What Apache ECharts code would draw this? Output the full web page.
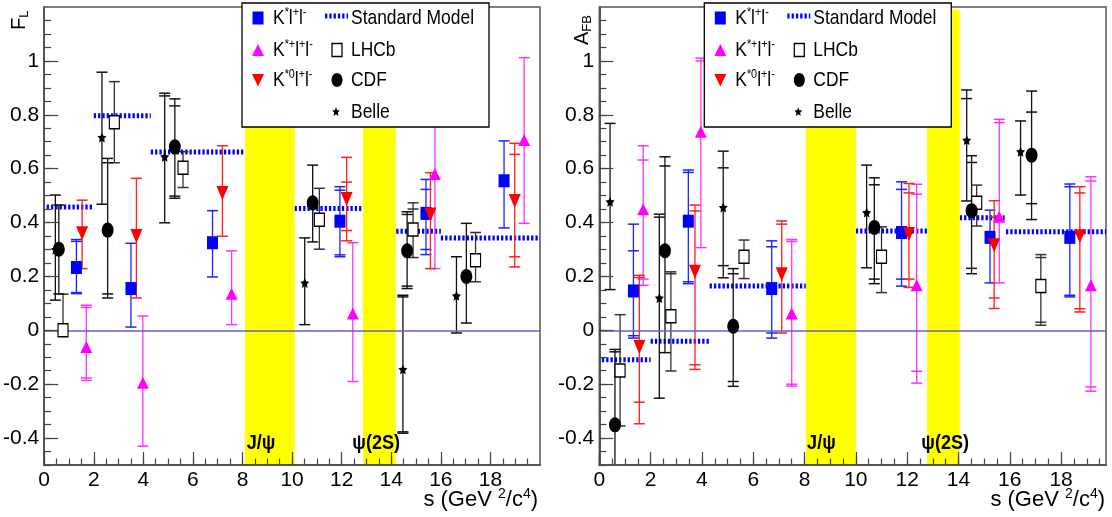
<!DOCTYPE html>
<html><head><meta charset="utf-8">
<script src="https://cdn.jsdelivr.net/npm/echarts@6/dist/echarts.min.js"></script>
<style>html,body{margin:0;padding:0;background:#fff}#c{width:1112px;height:517px}</style>
</head><body><div id="c"></div>
<script>
// ---------- tick labels ----------
const xMajorTicks = [0, 2, 4, 6, 8, 10, 12, 14, 16, 18];
const yMajorTicks = [-0.4, -0.2, 0, 0.2, 0.4, 0.6, 0.8, 1];

// ---------- data: rows are [s, value, low, high, innerLow, innerHigh] ----------
// Left panel: F_L
const FL_Kll = [
  [1.3, 0.233, 0.136, 0.337, 0.14, 0.33],
  [3.5, 0.155, 0.012, 0.323, 0.012, 0.323],
  [6.79, 0.325, 0.198, 0.444, 0.198, 0.444],
  [11.93, 0.405, 0.273, 0.533, 0.28, 0.52],
  [15.4, 0.434, 0.281, 0.56, 0.30, 0.523],
  [18.55, 0.555, 0.38, 0.703, 0.38, 0.703]
];
const FL_Kpll = [
  [1.7, -0.062, -0.186, 0.093, -0.177, 0.085],
  [3.98, -0.195, -0.43, 0.053, -0.43, 0.053],
  [7.56, 0.136, 0.021, 0.295, 0.021, 0.295],
  [12.45, 0.062, -0.19, 0.325, -0.19, 0.325],
  [15.76, 0.58, 0.229, 0.95, 0.229, 0.95],
  [19.36, 0.706, 0.397, 1.012, 0.397, 1.012]
];
const FL_K0ll = [
  [1.53, 0.36, 0.229, 0.483, 0.229, 0.483],
  [3.72, 0.35, 0.12, 0.564, 0.12, 0.564],
  [7.19, 0.51, 0.349, 0.685, 0.349, 0.685],
  [12.2, 0.487, 0.332, 0.642, 0.37, 0.55],
  [15.58, 0.43, 0.229, 0.585, 0.229, 0.585],
  [18.98, 0.48, 0.235, 0.694, 0.273, 0.653]
];
const FL_LHCb = [
  [0.76, 0.0, 0.0, 0.134, 0.0, 0.134],
  [2.83, 0.772, 0.622, 0.923, 0.622, 0.923],
  [5.6, 0.603, 0.53, 0.663, 0.53, 0.663],
  [11.1, 0.41, 0.301, 0.527, 0.301, 0.527],
  [14.88, 0.374, 0.27, 0.473, 0.27, 0.45],
  [17.4, 0.26, 0.18, 0.363, 0.18, 0.363]
];
const FL_CDF = [
  [0.59, 0.301, 0.135, 0.465, 0.135, 0.465],
  [2.56, 0.372, 0.12, 0.638, 0.135, 0.622],
  [5.27, 0.681, 0.49, 0.859, 0.498, 0.833],
  [10.83, 0.473, 0.328, 0.613, 0.328, 0.613],
  [14.64, 0.295, 0.155, 0.44, 0.164, 0.43],
  [17.03, 0.2, 0.027, 0.397, 0.027, 0.397]
];
const FL_Belle = [
  [0.45, 0.30, 0.112, 0.502, 0.112, 0.502],
  [2.33, 0.716, 0.468, 0.958, 0.468, 0.958],
  [4.86, 0.644, 0.399, 0.88, 0.399, 0.87],
  [10.51, 0.176, 0.021, 0.343, 0.021, 0.343],
  [14.47, -0.145, -0.382, 0.13, -0.377, 0.124],
  [16.63, 0.128, -0.01, 0.273, -0.01, 0.273]
];
// Standard Model bins: [sFrom, sTo, value]
const FL_SM = [
  [0.1, 2.0, 0.458], [2.0, 4.3, 0.796], [4.3, 8.1, 0.662],
  [10.1, 12.9, 0.452], [14.2, 16.0, 0.368], [16.0, 20.0, 0.343]
];
const FL_bands = [[8.1, 10.1], [12.86, 14.18]];
const FL_bandLabels = [[8.17, 'J/ψ'], [12.43, 'ψ(2S)']];

// Right panel: A_FB
const AFB_Kll = [
  [1.33, 0.146, -0.029, 0.394, -0.02, 0.295],
  [3.47, 0.405, 0.173, 0.595, 0.18, 0.586],
  [6.72, 0.155, -0.029, 0.332, -0.01, 0.31],
  [11.78, 0.363, 0.164, 0.551, 0.19, 0.523],
  [15.23, 0.345, 0.176, 0.446, 0.176, 0.446],
  [18.34, 0.345, 0.124, 0.543, 0.13, 0.533]
];
const AFB_Kpll = [
  [1.71, 0.449, 0.167, 0.685, 0.19, 0.632],
  [3.96, 0.737, 0.307, 1.01, 0.307, 1.0],
  [7.5, 0.062, -0.207, 0.337, -0.2, 0.33],
  [12.37, 0.167, -0.196, 0.542, -0.152, 0.505],
  [15.59, 0.421, 0.176, 0.783, 0.176, 0.771],
  [19.16, 0.167, -0.226, 0.57, -0.21, 0.554]
];
const AFB_K0ll = [
  [1.56, -0.062, -0.347, 0.204, -0.267, 0.196],
  [3.73, 0.217, -0.145, 0.465, -0.128, 0.443],
  [7.11, 0.208, -0.01, 0.406, -0.01, 0.394],
  [12.07, 0.357, 0.159, 0.545, 0.19, 0.51],
  [15.39, 0.316, 0.081, 0.481, 0.12, 0.42],
  [18.73, 0.349, 0.068, 0.533, 0.08, 0.51]
];
const AFB_LHCb = [
  [0.81, -0.149, -0.355, 0.058, -0.355, 0.058],
  [2.79, 0.052, -0.151, 0.217, -0.151, 0.21],
  [5.64, 0.273, 0.192, 0.335, 0.192, 0.335],
  [11.0, 0.273, 0.14, 0.384, 0.14, 0.384],
  [14.71, 0.473, 0.387, 0.539, 0.387, 0.539],
  [17.21, 0.164, 0.019, 0.281, 0.03, 0.27]
];
const AFB_CDF = [
  [0.61, -0.351, -0.6, -0.071, -0.6, -0.08],
  [2.56, 0.295, -0.083, 0.644, -0.083, 0.61],
  [5.22, 0.015, -0.208, 0.229, -0.19, 0.21],
  [10.72, 0.382, 0.173, 0.566, 0.19, 0.54],
  [14.51, 0.444, 0.21, 0.648, 0.23, 0.623],
  [16.85, 0.65, 0.411, 0.888, 0.47, 0.81]
];
const AFB_Belle = [
  [0.42, 0.477, 0.151, 0.768, 0.151, 0.768],
  [2.34, 0.12, -0.252, 0.431, -0.252, 0.42],
  [4.83, 0.456, 0.195, 0.665, 0.24, 0.603],
  [10.42, 0.437, 0.232, 0.613, 0.232, 0.613],
  [14.32, 0.706, 0.48, 0.892, 0.48, 0.86],
  [16.42, 0.663, 0.502, 0.777, 0.502, 0.777]
];
const AFB_SM = [
  [0.1, 2.0, -0.109], [2.0, 4.3, -0.041], [4.3, 8.05, 0.164],
  [10.0, 12.78, 0.369], [14.05, 15.8, 0.418], [15.85, 19.75, 0.366]
];
const AFB_bands = [[8.05, 10.0], [12.78, 14.05]];
const AFB_bandLabels = [[8.1, 'J/ψ'], [12.55, 'ψ(2S)']];

// ---------- styling ----------
const FONT = '"Liberation Sans",Arial,sans-serif';
const C_BLUE = '#0000ff', C_MAG = '#ff00ff', C_RED = '#ff0000';
const Y_MIN = -0.5, Y_MAX = 1.2;
const NARROW = 0.83;

function starPath() {
  let d = '';
  for (let k = 0; k < 10; k++) {
    const a = -Math.PI / 2 + k * Math.PI / 5;
    const r = k % 2 ? 5 : 10;
    d += (k ? 'L' : 'M') + (r * Math.cos(a)).toFixed(2) + ',' + (r * Math.sin(a)).toFixed(2);
  }
  return 'path://' + d + 'Z';
}
const STAR = starPath();

function minorList(lo, hi, step) {
  const out = [];
  for (let k = Math.ceil(lo / step - 1e-9); k * step <= hi + 1e-9; k++) out.push(+(k * step).toFixed(4));
  return out;
}

const panels = [
  { left: 40, width: 500, xmax: 20,
    sets: [FL_Kll, FL_Kpll, FL_K0ll, FL_LHCb, FL_CDF, FL_Belle],
    sm: FL_SM, bands: FL_bands, bandLabels: FL_bandLabels },
  { left: 599.3, width: 506.7, xmax: 19.75,
    sets: [AFB_Kll, AFB_Kpll, AFB_K0ll, AFB_LHCb, AFB_CDF, AFB_Belle],
    sm: AFB_SM, bands: AFB_bands, bandLabels: AFB_bandLabels }
];

const markerStyles = [
  { bar: '#2020ff', symbol: 'rect', size: [11, 13], item: { color: C_BLUE } },
  { bar: '#ff30ff', symbol: 'triangle', size: [12, 12], item: { color: C_MAG } },
  { bar: '#ff2020', symbol: 'triangle', size: [12, 14], rotate: 180, item: { color: C_RED } },
  { bar: '#333333', symbol: 'rect', size: [10, 13], item: { color: '#fff', borderColor: '#000', borderWidth: 1.3 } },
  { bar: '#111111', symbol: 'circle', size: [12, 15], item: { color: '#000' } },
  { bar: '#111111', symbol: STAR, size: [9, 10], item: { color: '#000' } }
];

const grids = [], xAxes = [], yAxes = [], series = [];

panels.forEach((P, i) => {
  grids.push({ left: P.left, top: 7, width: P.width, height: 458, show: true,
    backgroundColor: '#fff', borderColor: '#555', borderWidth: 1.5 });
  const common = { gridIndex: i, type: 'value', z: 8, splitLine: { show: false } };
  xAxes.push(Object.assign({}, common, { min: 0, max: P.xmax,
    axisLine: { show: true, onZero: false, lineStyle: { color: '#555', width: 2 } },
    axisTick: { show: true, inside: true, length: 13, customValues: xMajorTicks, lineStyle: { color: '#444', width: 1.2 } },
    axisLabel: { show: true, customValues: xMajorTicks, margin: 5, fontSize: 21, fontFamily: FONT, color: '#000' } }));
  xAxes.push(Object.assign({}, common, { min: 0, max: P.xmax, position: 'bottom', offset: 0,
    axisLine: { show: false, onZero: false },
    axisTick: { show: true, inside: true, length: 6.5, customValues: minorList(0, P.xmax - 0.01, 0.5), lineStyle: { color: '#444', width: 1.2 } },
    axisLabel: { show: false } }));
  yAxes.push(Object.assign({}, common, { min: Y_MIN, max: Y_MAX,
    axisLine: { show: true, onZero: false, lineStyle: { color: '#555', width: 2 } },
    axisTick: { show: true, inside: true, length: 14, customValues: yMajorTicks, lineStyle: { color: '#444', width: 1.2 } },
    axisLabel: { show: true, customValues: yMajorTicks, margin: 5, fontSize: 21, fontFamily: FONT, color: '#000',
      formatter: v => String(Math.round(v * 10) / 10) } }));
  yAxes.push(Object.assign({}, common, { min: Y_MIN, max: Y_MAX, position: 'left', offset: 0,
    axisLine: { show: false, onZero: false },
    axisTick: { show: true, inside: true, length: 7, customValues: minorList(Y_MIN, Y_MAX - 0.01, 0.05), lineStyle: { color: '#444', width: 1.2 } },
    axisLabel: { show: false } }));

  const xi = 2 * i, yi = 2 * i;

  // Standard Model bins + zero line
  series.push({ type: 'custom', xAxisIndex: xi, yAxisIndex: yi, z: 2, silent: true, data: P.sm,
    renderItem: (p, api) => {
      const a = api.coord([api.value(0), api.value(2)]);
      const b = api.coord([api.value(1), api.value(2)]);
      return { type: 'line', shape: { x1: a[0], y1: a[1], x2: b[0], y2: b[1] },
        style: { stroke: C_BLUE, lineWidth: 5, lineDash: [2.3, 2] } };
    },
    markLine: { silent: true, symbol: 'none', label: { show: false },
      lineStyle: { color: '#6262c6', width: 1.5, type: 'solid' }, data: [{ yAxis: 0 }] } });

  // vetoed charmonium bands
  series.push({ type: 'custom', xAxisIndex: xi, yAxisIndex: yi, z: 3, silent: true, data: P.bands,
    renderItem: (p, api) => {
      const a = api.coord([api.value(0), 1.19]);
      const b = api.coord([api.value(1), Y_MIN]);
      return { type: 'rect', shape: { x: a[0], y: a[1], width: b[0] - a[0], height: b[1] - a[1] },
        style: { fill: '#ffff00' } };
    } });

  // error bars and markers
  P.sets.forEach((data, k) => {
    const M = markerStyles[k];
    series.push({ type: 'custom', xAxisIndex: xi, yAxisIndex: yi, z: 4, silent: true, clip: true, data: data,
      renderItem: (p, api) => {
        const s = api.value(0);
        const lo = api.value(2), hi = api.value(3), ilo = api.value(4), ihi = api.value(5);
        const pl = api.coord([s, lo]), ph = api.coord([s, hi]);
        const cap = (pt) => ({ type: 'line', shape: { x1: pt[0] - 5.5, y1: pt[1], x2: pt[0] + 5.5, y2: pt[1] },
          style: { stroke: M.bar, lineWidth: 1.5 } });
        const ch = [
          { type: 'line', shape: { x1: pl[0], y1: pl[1], x2: ph[0], y2: ph[1] }, style: { stroke: M.bar, lineWidth: 1.3 } },
          cap(pl), cap(ph)
        ];
        if (ilo !== lo) ch.push(cap(api.coord([s, ilo])));
        if (ihi !== hi) ch.push(cap(api.coord([s, ihi])));
        return { type: 'group', children: ch };
      } });
    series.push({ type: 'scatter', xAxisIndex: xi, yAxisIndex: yi, z: 5, silent: true,
      data: data.map(r => [r[0], r[1]]), symbol: M.symbol, symbolSize: M.size,
      symbolRotate: M.rotate || 0, itemStyle: Object.assign({ opacity: 1 }, M.item) });
  });

  // band labels
  series.push({ type: 'custom', xAxisIndex: xi, yAxisIndex: yi, z: 6, silent: true,
    data: P.bandLabels.map(r => [r[0], -0.42, r[1]]),
    renderItem: (p, api) => {
      const pt = api.coord([api.value(0), api.value(1)]);
      return { type: 'text', x: pt[0], y: pt[1], scaleX: 0.86,
        style: { text: P.bandLabels[p.dataIndex][1], fill: '#000', font: 'bold 21px ' + FONT,
          textAlign: 'left', textVerticalAlign: 'middle' } };
    } });
});

// ---------- legend & titles (graphic) ----------
const richLeg = {
  m: { fontSize: 21, fontFamily: FONT, fill: '#000', lineHeight: 24, verticalAlign: 'middle' },
  s: { fontSize: 13, fontFamily: FONT, fill: '#000', lineHeight: 13, verticalAlign: 'top' }
};
function legendGroup(L) {
  const Z = 100;
  const tri = (cx, cy, up) => up
    ? [[cx - 6, cy + 6], [cx + 6, cy + 6], [cx, cy - 6]]
    : [[cx - 6, cy - 6], [cx + 6, cy - 6], [cx, cy + 6.5]];
  const starPts = (cx, cy) => {
    const pts = [];
    for (let k = 0; k < 10; k++) {
      const a = -Math.PI / 2 + k * Math.PI / 5, r = k % 2 ? 2.3 : 4.8;
      pts.push([cx + r * Math.cos(a) * 0.85, cy + r * Math.sin(a)]);
    }
    return pts;
  };
  const txt = (x, y, t, rich) => ({ type: 'text', x, y, z: Z + 1, scaleX: NARROW,
    style: rich ? { text: t, rich: richLeg, textAlign: 'left', textVerticalAlign: 'middle' }
                : { text: t, fill: '#000', font: '21px ' + FONT, textAlign: 'left', textVerticalAlign: 'middle' } });
  return { type: 'group', x: L, y: 3, z: Z, children: [
    { type: 'rect', z: Z, shape: { x: 0, y: 0, width: 247, height: 124 }, style: { fill: '#fff', stroke: '#000', lineWidth: 1.3 } },
    { type: 'rect', z: Z + 1, shape: { x: 10.5, y: 8.5, width: 11, height: 13 }, style: { fill: C_BLUE } },
    { type: 'polygon', z: Z + 1, shape: { points: tri(16, 47, true) }, style: { fill: C_MAG } },
    { type: 'polygon', z: Z + 1, shape: { points: tri(16, 77, false) }, style: { fill: C_RED } },
    txt(31, 15, '{m|K}{s|*}{m|l}{s|+}{m|l}{s|-}', true),
    txt(31, 47, '{m|K}{s|*+}{m|l}{s|+}{m|l}{s|-}', true),
    txt(31, 77, '{m|K}{s|*0}{m|l}{s|+}{m|l}{s|-}', true),
    { type: 'line', z: Z + 1, shape: { x1: 83, y1: 13, x2: 106, y2: 13 }, style: { stroke: C_BLUE, lineWidth: 5, lineDash: [2.3, 2] } },
    { type: 'rect', z: Z + 1, shape: { x: 90, y: 40.5, width: 10, height: 13 }, style: { fill: '#fff', stroke: '#000', lineWidth: 1.3 } },
    { type: 'ellipse', z: Z + 1, shape: { cx: 95, cy: 77, rx: 5.5, ry: 7 }, style: { fill: '#000' } },
    { type: 'polygon', z: Z + 1, shape: { points: starPts(94, 109) }, style: { fill: '#000' } },
    txt(109, 15, 'Standard Model'),
    txt(109, 47, 'LHCb'),
    txt(109, 77, 'CDF'),
    txt(109, 109, 'Belle')
  ] };
}
const richTitle = {
  m: { fontSize: 22, fontFamily: FONT, fill: '#000', lineHeight: 26, verticalAlign: 'middle' },
  s: { fontSize: 14, fontFamily: FONT, fill: '#000', lineHeight: 14, verticalAlign: 'top' }
};
// rotated titles: the small index sits on the glyph-top side
const richY = {
  m: { fontSize: 20, fontFamily: FONT, fill: '#000', lineHeight: 24, verticalAlign: 'middle' },
  s: { fontSize: 13, fontFamily: FONT, fill: '#000', lineHeight: 13, verticalAlign: 'bottom' }
};
const graphics = [
  legendGroup(242), legendGroup(704.3),
  { type: 'text', x: 19, y: 30, rotation: Math.PI / 2, z: 100,
    style: { text: '{m|F}{s|L}', rich: richY, textAlign: 'left', textVerticalAlign: 'middle' } },
  { type: 'text', x: 582, y: 45, rotation: Math.PI / 2, z: 100,
    style: { text: '{m|A}{s|FB}', rich: richY, textAlign: 'left', textVerticalAlign: 'middle' } },
  { type: 'text', x: 538, y: 500, z: 100,
    style: { text: '{m|s (GeV }{s|2}{m|/c}{s|4}{m|)}', rich: richTitle, textAlign: 'right', textVerticalAlign: 'middle' } },
  { type: 'text', x: 1105, y: 500, z: 100,
    style: { text: '{m|s (GeV }{s|2}{m|/c}{s|4}{m|)}', rich: richTitle, textAlign: 'right', textVerticalAlign: 'middle' } }
];

const chart = echarts.init(document.getElementById('c'), null, { renderer: 'canvas' });
chart.setOption({
  animation: false,
  backgroundColor: '#fff',
  grid: grids, xAxis: xAxes, yAxis: yAxes, series: series, graphic: graphics
});
</script></body></html>
